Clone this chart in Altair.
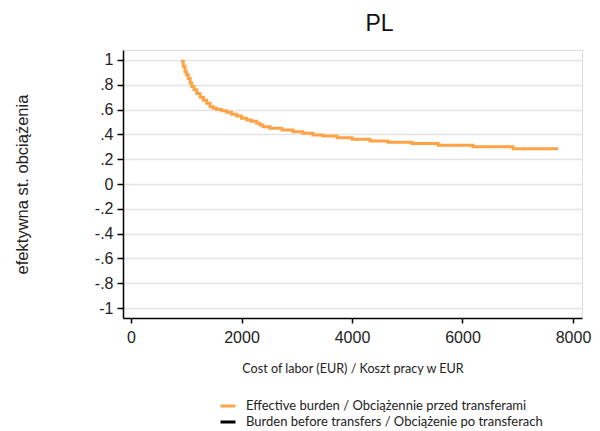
import altair as alt
import pandas as pd

# Data
cost_eur = [905, 945, 977, 1005, 1037, 1070, 1099, 1140, 1189, 1250, 1309, 1370, 1430,
            1490, 1551, 1640, 1732, 1820, 1913, 2000, 2094, 2180, 2275, 2335, 2389, 2516,
            2733, 2932, 3113, 3294, 3475, 3729, 4000, 4326, 4652, 5086, 5557, 6190, 6914, 7729]
effective_burden = [0.99, 0.95, 0.905, 0.88, 0.85, 0.815, 0.785, 0.76, 0.73, 0.70, 0.675, 0.65, 0.623,
                    0.61, 0.60, 0.59, 0.578, 0.562, 0.548, 0.53, 0.516, 0.505, 0.49, 0.476, 0.462, 0.449,
                    0.435, 0.422, 0.409, 0.395, 0.387, 0.373, 0.360, 0.347, 0.336, 0.326, 0.312, 0.301, 0.285, 0.285]

series_names = ["Effective burden  / Obciążennie przed transferami",
                "Burden before transfers / Obciążenie po transferach"]
series_colors = ["#ffa347", "#000000"]

y_tick_values = [-1, -0.8, -0.6, -0.4, -0.2, 0, 0.2, 0.4, 0.6, 0.8, 1]
y_tick_labels = ["-1", "-.8", "-.6", "-.4", "-.2", "0", ".2", ".4", ".6", ".8", "1"]
x_tick_values = [0, 2000, 4000, 6000, 8000]

df = pd.DataFrame({"cost": cost_eur, "burden": effective_burden, "series": series_names[0]})

label_expr = ""
for v, lab in zip(y_tick_values, y_tick_labels):
    label_expr += f"abs(datum.value - ({v})) < 0.01 ? '{lab}' : "
label_expr += "''"

line = alt.Chart(df).mark_line(interpolate="step-after", strokeWidth=3).encode(
    x=alt.X("cost:Q",
            scale=alt.Scale(domain=[-145, 8163], nice=False, zero=False),
            axis=alt.Axis(values=x_tick_values, format="d", grid=False,
                          title="Cost of labor (EUR) / Koszt pracy w EUR",
                          titleFont="Lato", titleFontSize=12.6, titleFontWeight="normal",
                          titleColor="#222", titlePadding=17,
                          labelFont="Liberation Sans", labelFontSize=16, labelColor="#222",
                          labelPadding=6, tickSize=5, tickColor="#000", tickWidth=1.5,
                          domainColor="#000", domainWidth=1.5)),
    y=alt.Y("burden:Q",
            scale=alt.Scale(domain=[-1.08, 1.08], nice=False, zero=False),
            axis=alt.Axis(values=y_tick_values, labelExpr=label_expr, grid=True,
                          gridColor="#e3e3e3", gridWidth=1.5,
                          title="efektywna st. obciążenia",
                          titleFont="Liberation Sans", titleFontSize=16.5, titleFontWeight="normal",
                          titleColor="#222", titleX=-101, titleY=134, titleAngle=-90,
                          titleAlign="center", titleBaseline="middle",
                          labelFont="Liberation Sans", labelFontSize=16, labelColor="#222",
                          labelPadding=4, tickSize=6, tickColor="#000", tickWidth=1.5,
                          domainColor="#000", domainWidth=1.5)),
    color=alt.Color("series:N",
                    scale=alt.Scale(domain=series_names, range=series_colors),
                    legend=alt.Legend(title=None, orient="none", legendX=96, legendY=347,
                                      symbolType="stroke", symbolSize=225, symbolStrokeWidth=3,
                                      labelFont="Lato", labelFontSize=13, labelColor="#222",
                                      labelOffset=9, rowPadding=0, labelLimit=400)),
)

chart = line.properties(
    width=459,
    height=268,
    title=alt.TitleParams("PL", font="Liberation Sans", fontSize=23, fontWeight="normal",
                          color="#111", anchor="middle", dx=27, offset=14),
    autosize=alt.AutoSizeParams(type="none"),
    padding={"left": 115, "top": 42, "right": 10, "bottom": 112},
).configure_view(stroke=None).configure(background="white")

chart.save("out.html", embed_options={"renderer": "svg", "actions": False})
